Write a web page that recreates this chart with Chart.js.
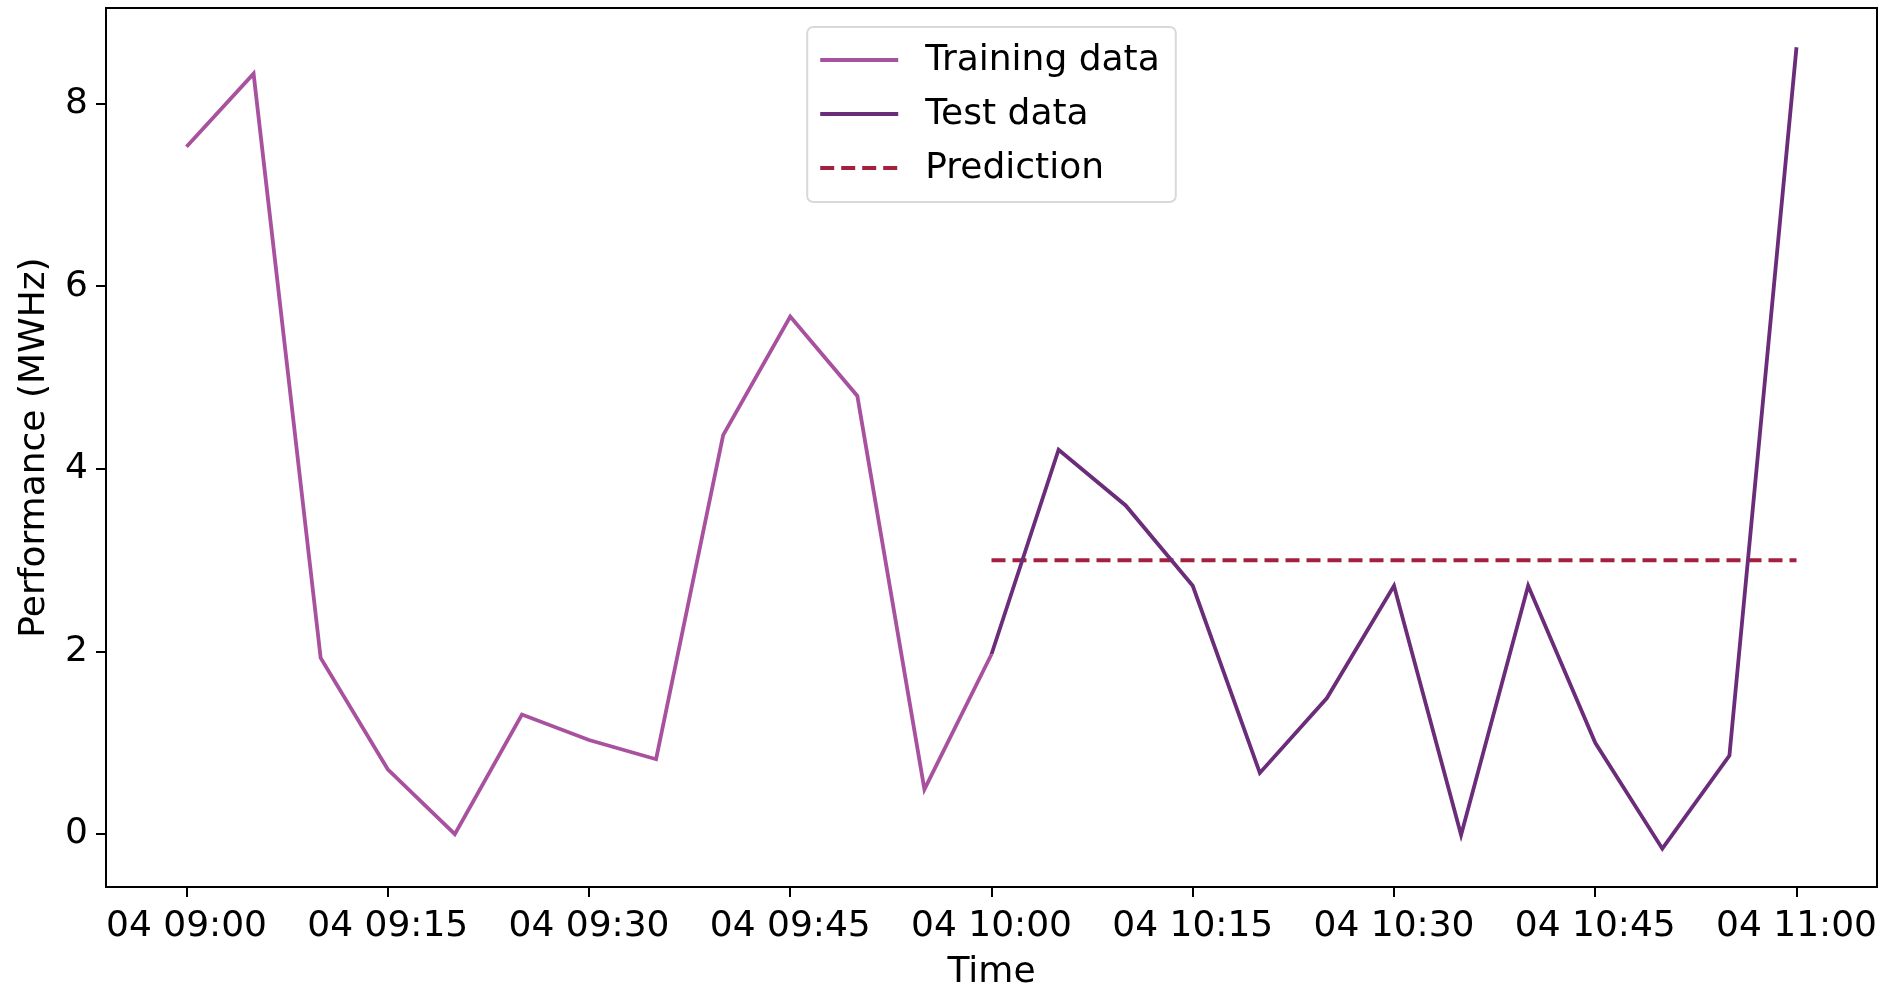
<!DOCTYPE html>
<html>
<head>
<meta charset="utf-8">
<script src="https://cdn.jsdelivr.net/npm/chart.js@4.4.1/dist/chart.umd.min.js"></script>
<style>
  html, body { margin: 0; padding: 0; background: #fff; }
  #wrap { width: 1893px; height: 986px; }
</style>
</head>
<body>
<div id="wrap"><canvas id="myChart" width="1893" height="986"></canvas></div>
<script>
// Time stamps (5 min steps) and values
var trainTimes = ['09:00', '09:05', '09:10', '09:15', '09:20', '09:25', '09:30', '09:35', '09:40', '09:45', '09:50', '09:55', '10:00'];
var trainValues = [7.53, 8.33, 1.93, 0.71, 0.0, 1.31, 1.03, 0.82, 4.37, 5.67, 4.80, 0.49, 1.97];

var testTimes = ['10:00', '10:05', '10:10', '10:15', '10:20', '10:25', '10:30', '10:35', '10:40', '10:45', '10:50', '10:55', '11:00'];
var testValues = [1.97, 4.21, 3.60, 2.72, 0.67, 1.49, 2.72, -0.01, 2.72, 1.00, -0.16, 0.86, 8.62];

var predTimes = ['10:00', '11:00'];
var predValues = [3.0, 3.0];

var xTickTimes = ['09:00', '09:15', '09:30', '09:45', '10:00', '10:15', '10:30', '10:45', '11:00'];
var xTickLabels = ['04 09:00', '04 09:15', '04 09:30', '04 09:45', '04 10:00', '04 10:15', '04 10:30', '04 10:45', '04 11:00'];
var yTicks = [0, 2, 4, 6, 8];

// minutes after 09:00
function toMin(t) {
    var p = t.split(':');
    return (parseInt(p[0]) - 9) * 60 + parseInt(p[1]);
}
function points(times, values) {
    return times.map(function(t, i) { return { x: toMin(t), y: values[i] }; });
}

var FONT = { family: 'DejaVu Sans', size: 36 };

// black frame round the plot area
var framePlugin = {
    id: 'frame',
    afterDatasetsDraw: function(chart) {
        var a = chart.chartArea, c = chart.ctx;
        c.save();
        c.strokeStyle = '#000';
        c.lineWidth = 2;
        c.strokeRect(a.left, a.top, a.right - a.left, a.bottom - a.top);
        c.restore();
    }
};

// matplotlib-like legend, upper center
var legendPlugin = {
    id: 'mplLegend',
    afterDraw: function(chart) {
        var a = chart.chartArea, c = chart.ctx;
        var ds = chart.data.datasets;
        c.save();
        c.font = '36px "DejaVu Sans"';
        var textW = 0;
        ds.forEach(function(d) { textW = Math.max(textW, c.measureText(d.label).width); });
        var w = 13 + 78 + 27 + textW + 16;
        var h = 175;
        var x = (a.left + a.right) / 2 - w / 2;
        var y = a.top + 19;
        c.beginPath();
        c.roundRect(x, y, w, h, 6);
        c.fillStyle = 'rgba(255,255,255,0.85)';
        c.fill();
        c.strokeStyle = '#d9d9d9';
        c.lineWidth = 2;
        c.stroke();
        ds.forEach(function(d, i) {
            var cy = y + 33 + i * 54;
            c.beginPath();
            c.strokeStyle = d.borderColor;
            c.lineWidth = d.borderWidth;
            c.setLineDash(d.borderDash || []);
            c.moveTo(x + 13, cy);
            c.lineTo(x + 13 + 78, cy);
            c.stroke();
            c.setLineDash([]);
            c.fillStyle = '#000';
            c.textBaseline = 'middle';
            c.fillText(d.label, x + 13 + 78 + 27, cy + 1);
        });
        c.restore();
    }
};

window.addEventListener('load', function() {
    var ctx = document.getElementById('myChart').getContext('2d');
    new Chart(ctx, {
        type: 'line',
        data: {
            datasets: [{
                label: 'Training data',
                data: points(trainTimes, trainValues),
                borderColor: '#a8519e',
                borderWidth: 3.8,
                pointRadius: 0,
                tension: 0
            }, {
                label: 'Test data',
                data: points(testTimes, testValues),
                borderColor: '#6b2c7a',
                borderWidth: 3.8,
                pointRadius: 0,
                tension: 0
            }, {
                label: 'Prediction',
                data: points(predTimes, predValues),
                borderColor: '#a3203f',
                borderWidth: 3.8,
                borderDash: [14, 7],
                pointRadius: 0,
                tension: 0
            }]
        },
        options: {
            responsive: false,
            animation: false,
            layout: { padding: { top: 8, right: 16, left: 0, bottom: 0 } },
            plugins: {
                legend: { display: false },
                tooltip: { enabled: false }
            },
            scales: {
                x: {
                    type: 'linear',
                    min: -6,
                    max: 126,
                    afterBuildTicks: function(scale) {
                        scale.ticks = xTickTimes.map(function(t) { return { value: toMin(t) }; });
                    },
                    afterFit: function(scale) { scale.height = 99; },
                    ticks: {
                        font: FONT,
                        color: '#000',
                        padding: 8,
                        maxRotation: 0,
                        autoSkip: false,
                        callback: function(v) {
                            var i = xTickTimes.map(toMin).indexOf(v);
                            return i >= 0 ? xTickLabels[i] : '';
                        }
                    },
                    grid: { drawOnChartArea: false, drawTicks: true, tickLength: 10, color: '#000', lineWidth: 2 },
                    border: { display: true, color: '#000', width: 2 },
                    title: { display: true, text: 'Time', font: FONT, color: '#000', padding: { top: 0, bottom: -8 } }
                },
                y: {
                    min: -0.58,
                    max: 9.05,
                    afterBuildTicks: function(scale) {
                        scale.ticks = yTicks.map(function(v) { return { value: v }; });
                    },
                    afterFit: function(scale) {
                        scale.width = 106;
                        scale.paddingTop = 0;
                        scale.paddingBottom = 0;
                    },
                    ticks: { font: FONT, color: '#000', padding: 8 },
                    grid: { drawOnChartArea: false, drawTicks: true, tickLength: 10, color: '#000', lineWidth: 2 },
                    border: { display: true, color: '#000', width: 2 },
                    title: { display: true, text: 'Performance (MWHz)', font: FONT, color: '#000', padding: { top: 13, bottom: 4 } }
                }
            }
        },
        plugins: [framePlugin, legendPlugin]
    });
});
</script>
</body>
</html>
